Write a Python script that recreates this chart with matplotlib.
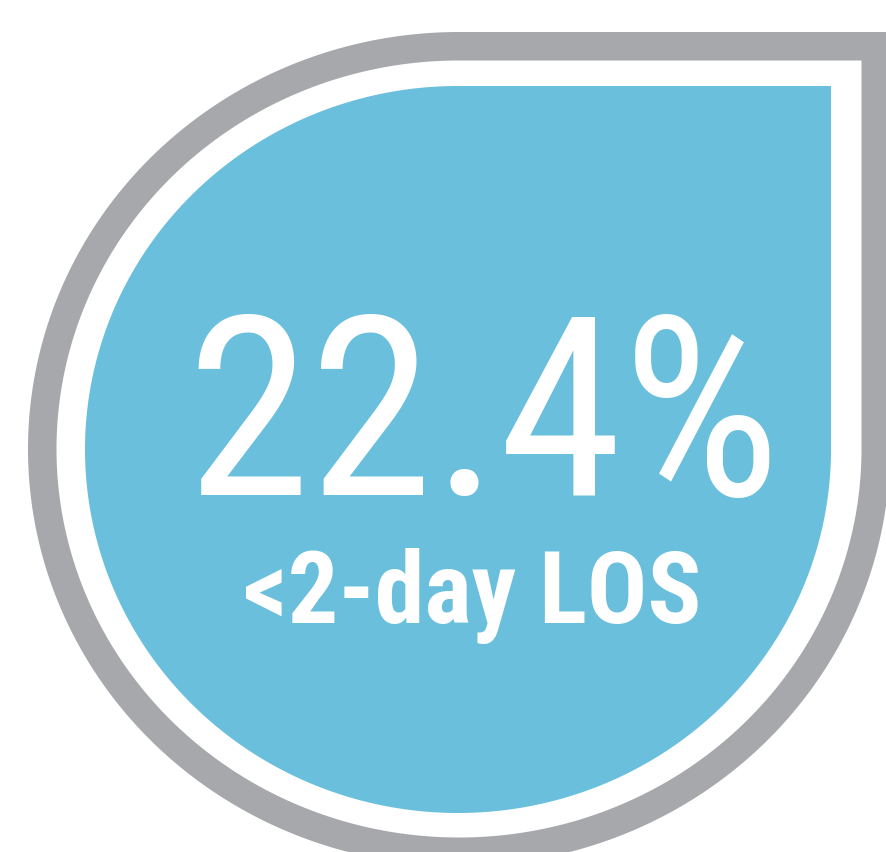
import numpy as np
import matplotlib
matplotlib.use("Agg")
import matplotlib.pyplot as plt
from matplotlib.patches import Polygon

# ---- data ----
value = 22.4
value_label = f"{value:.1f}%"
caption = "<2-day LOS"

BLUE = "#69BFDC"
GRAY = "#A7A8AC"

W, H = 886, 852
fig = plt.figure(figsize=(W / 100, H / 100), dpi=100)
ax = fig.add_axes([0, 0, 1, 1])
ax.set_xlim(0, W)
ax.set_ylim(H, 0)
ax.axis("off")


def drop(cx, cy, rx, ry, n=400):
    t = np.linspace(np.pi / 2, 2 * np.pi, n)
    xs = cx + rx * np.cos(t)
    ys = cy - ry * np.sin(t)
    pts = np.column_stack([xs, ys])
    corner = np.array([[cx + rx, cy - ry]])
    return np.vstack([pts, corner])


cx, cy = 459, 449
ax.add_patch(Polygon(drop(cx, cy, 431, 417), closed=True, fc=GRAY, ec="none"))
ax.add_patch(Polygon(drop(cx, cy, 402.5, 388.5), closed=True, fc="white", ec="none"))
ax.add_patch(Polygon(drop(458, 449.5, 373, 363.5), closed=True, fc=BLUE, ec="none"))

fam = ["Roboto Condensed", "Liberation Sans Narrow", "DejaVu Sans"]
ax.text(484, 495, value_label, ha="center", va="baseline", color="white",
        fontsize=180, fontweight="normal", family=fam)
ax.text(472, 623, caption, ha="center", va="baseline", color="white",
        fontsize=72, fontweight="bold", family=fam)

fig.savefig("out.png", dpi=100)
